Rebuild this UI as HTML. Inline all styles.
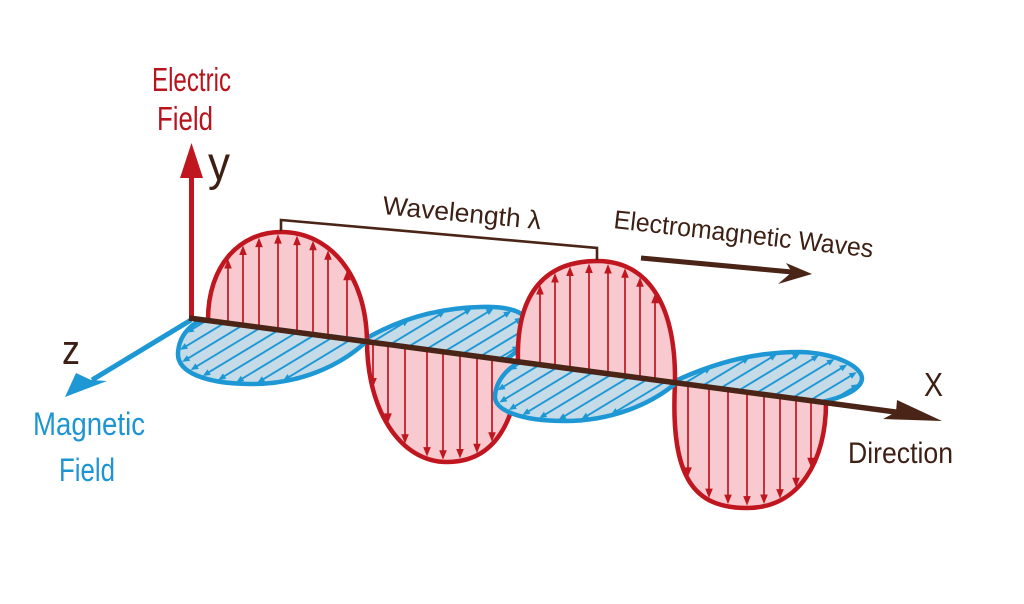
<!DOCTYPE html>
<html><head><meta charset="utf-8">
<style>
html,body{margin:0;padding:0;background:#fff;width:1024px;height:604px;overflow:hidden}
svg{display:block}
text{font-family:"Liberation Sans",sans-serif;}
</style></head><body>
<svg id="s" width="1024" height="604" viewBox="0 0 1024 604" xmlns="http://www.w3.org/2000/svg">
<rect width="1024" height="604" fill="#ffffff"/>

<!-- back blue lobes -->
<path id="fB" d="M362,341 C400,318 440,308 480,307 C510,306 528,312 528,326 C528,342 515,354 505,360 Z" fill="#c6dbe8"/>
<path id="fD" d="M673,382 C720,360 760,352 800,352 C835,353 861,366 862,378 C862,390 840,398 822,402 Z" fill="#c6dbe8"/>
<g id="hB"></g><g id="hD"></g>
<path d="M362,341 C400,318 440,308 480,307 C510,306 528,312 528,326 C528,342 515,354 505,360 Z" fill="none" stroke="#1d98d5" stroke-width="4.5" stroke-linejoin="round"/>
<path d="M673,382 C720,360 760,352 800,352 C835,353 861,366 862,378 C862,390 840,398 822,402 Z" fill="none" stroke="#1d98d5" stroke-width="4.5" stroke-linejoin="round"/>

<!-- red lobes -->
<path id="f1" d="M208,320 C208,265 240,232 281,232 C330,232 366,275 367,341 Z" fill="#f8cacf"/>
<path id="f2" d="M367,341 C367,410 400,462 447,462 C495,462 518,420 518,361 Z" fill="#f8cacf"/>
<path id="f3" d="M518,361 C516,290 548,261 597,261 C645,261 676,300 675,383 Z" fill="#f8cacf"/>
<path id="f4" d="M675,383 C670,480 695,508 747,508 C800,508 826,460 826,403 Z" fill="#f8cacf"/>
<g id="hR"></g>
<path d="M208,320 C208,265 240,232 281,232 C330,232 366,275 367,341 C367,410 400,462 447,462 C495,462 518,420 518,361 C516,290 548,261 597,261 C645,261 676,300 675,383 C670,480 695,508 747,508 C800,508 826,460 826,403" fill="none" stroke="#c0161f" stroke-width="4.5" stroke-linejoin="round" stroke-linecap="round"/>

<!-- front blue lobes -->
<path id="fA" d="M367,341 C340,366 300,384 252,384 C205,384 177,372 178,353 C179,335 192,322 205,320 Z" fill="#c6dbe8"/>
<path id="fC" d="M676,383 C650,405 610,421 565,421 C520,421 494,410 495,396 C496,380 508,368 520,362 Z" fill="#c6dbe8"/>
<g id="hA"></g><g id="hC"></g>
<path d="M367,341 C340,366 300,384 252,384 C205,384 177,372 178,353 C179,335 192,322 205,320 Z" fill="none" stroke="#1d98d5" stroke-width="4.5" stroke-linejoin="round"/>
<path d="M676,383 C650,405 610,421 565,421 C520,421 494,410 495,396 C496,380 508,368 520,362 Z" fill="none" stroke="#1d98d5" stroke-width="4.5" stroke-linejoin="round"/>

<!-- axes -->
<line x1="191" y1="320" x2="92" y2="380" stroke="#1d98d5" stroke-width="5"/>
<polygon points="65,397 76,373 91,380 107,381" fill="#1d98d5"/>
<line x1="191.5" y1="321" x2="191.5" y2="175" stroke="#c0161f" stroke-width="5"/>
<polygon points="191.5,143 180,178 203,178" fill="#c0161f"/>
<line x1="189" y1="318" x2="898" y2="412.3" stroke="#4a2416" stroke-width="5.5"/>
<polygon points="942,421 897,400 896,412 883,419" fill="#4a2416"/>

<!-- wavelength bracket -->
<polyline points="281,231 281,220 597,248 597,260" fill="none" stroke="#4a2416" stroke-width="2.6"/>

<!-- EM arrow -->
<line x1="641" y1="258" x2="792" y2="272" stroke="#4a2416" stroke-width="5"/>
<polygon points="812,274 786,263 792,272 778,284" fill="#4a2416"/>

<!-- labels -->
<text x="152" y="91" font-size="33" fill="#b8141e" textLength="79" lengthAdjust="spacingAndGlyphs">Electric</text>
<text x="157" y="130" font-size="33" fill="#b8141e" textLength="56" lengthAdjust="spacingAndGlyphs">Field</text>
<text x="208" y="180" font-size="48" fill="#3d1f14" textLength="22" lengthAdjust="spacingAndGlyphs">y</text>
<text x="62" y="364" font-size="42" fill="#3d1f14" textLength="18" lengthAdjust="spacingAndGlyphs">z</text>
<text x="33" y="435" font-size="32" fill="#1e95d3" textLength="112" lengthAdjust="spacingAndGlyphs">Magnetic</text>
<text x="59" y="481" font-size="32" fill="#1e95d3" textLength="56" lengthAdjust="spacingAndGlyphs">Field</text>
<text x="382" y="214" font-size="26" fill="#3d1f14" transform="rotate(5.5 382 214)" textLength="159" lengthAdjust="spacingAndGlyphs">Wavelength λ</text>
<text x="613" y="228" font-size="26" fill="#3d1f14" transform="rotate(6.5 613 228)" textLength="261" lengthAdjust="spacingAndGlyphs">Electromagnetic Waves</text>
<text x="924" y="396" font-size="33" fill="#3d1f14" textLength="19" lengthAdjust="spacingAndGlyphs">X</text>
<text x="848" y="463" font-size="30" fill="#3d1f14" textLength="105" lengthAdjust="spacingAndGlyphs">Direction</text>
</svg>

<script>
(function(){
var NS='http://www.w3.org/2000/svg';
function parse(d){
  var t=d.match(/[MCLZ]|-?\d*\.?\d+/g),i=0,cmd=null,pts=[],cur=null,start=null;
  while(i<t.length){
    if(/^[MCLZ]$/.test(t[i])){cmd=t[i++]; if(cmd==='Z'){pts.push(start);cur=start;continue;}}
    if(cmd==='M'){cur=[+t[i],+t[i+1]];i+=2;start=cur;pts.push(cur);cmd='L';}
    else if(cmd==='L'){cur=[+t[i],+t[i+1]];i+=2;pts.push(cur);}
    else if(cmd==='C'){
      var p1=[+t[i],+t[i+1]],p2=[+t[i+2],+t[i+3]],p3=[+t[i+4],+t[i+5]];i+=6;
      for(var k=1;k<=40;k++){var s=k/40,u=1-s;
        pts.push([u*u*u*cur[0]+3*u*u*s*p1[0]+3*u*s*s*p2[0]+s*s*s*p3[0],
                  u*u*u*cur[1]+3*u*u*s*p1[1]+3*u*s*s*p2[1]+s*s*s*p3[1]]);}
      cur=p3;
    } else {i++;}
  }
  return pts;
}
function inside(poly,x,y){
  var c=false;
  for(var i=0,j=poly.length-1;i<poly.length;j=i++){
    var xi=poly[i][0],yi=poly[i][1],xj=poly[j][0],yj=poly[j][1];
    if(((yi>y)!==(yj>y)) && (x<(xj-xi)*(y-yi)/(yj-yi)+xi)) c=!c;
  }
  return c;
}
function axisY(x){return 318+0.133*(x-190);}
function mk(tag,a,p){var e=document.createElementNS(NS,tag);for(var k in a)e.setAttribute(k,a[k]);p.appendChild(e);return e;}
function arrow(g,poly,sx,sy,dx,dy,col,lw,hl,hw,inset){
  var t=1;
  while(t<12 && !inside(poly,sx+dx*t,sy+dy*t)) t+=0.5;
  if(t>=12) return;
  var t0=t;
  while(t<400 && inside(poly,sx+dx*t,sy+dy*t)) t+=0.5;
  var te=t-inset;
  if(te-t0<hl+4) return;
  var ex=sx+dx*te,ey=sy+dy*te;
  var bx=ex-dx*(hl-1),by=ey-dy*(hl-1);
  mk('line',{x1:sx,y1:sy,x2:bx,y2:by,stroke:col,'stroke-width':lw},g);
  var px=-dy,py=dx,b2x=ex-dx*hl,b2y=ey-dy*hl;
  mk('polygon',{points:ex+','+ey+' '+(b2x+px*hw)+','+(b2y+py*hw)+' '+(b2x-px*hw)+','+(b2y-py*hw),fill:col},g);
}
function poly(id){return parse(document.getElementById(id).getAttribute('d'));}
var red='#c0161f',blue='#1d98d5';
var gR=document.getElementById('hR');
var lobes=[['f1',-1,[228,243,259,278,297,313,328,347]],
           ['f2',1,[373,388,405,427,443,460,477,492]],
           ['f3',-1,[540,555,570,589,608,625,640,655]],
           ['f4',1,[688,709,728,747,764,780,796,811]]];
lobes.forEach(function(L){
  var p=poly(L[0]);
  L[2].forEach(function(x){arrow(gR,p,x,axisY(x),0,L[1],red,1.7,9.5,3.8,2.4);});
});
var zx=-0.856,zy=0.518;
var bl=[['fA','hA',1,207,355],['fC','hC',1,522,668],['fB','hB',-1,372,512],['fD','hD',-1,684,846]];
bl.forEach(function(B){
  var p=poly(B[0]),g=document.getElementById(B[1]);
  for(var x=B[3];x<=B[4];x+=18){
    arrow(g,p,x,axisY(x),zx*B[2],zy*B[2],blue,1.9,7.5,3.2,2.4);
  }
});
})();
</script>
</body></html>
